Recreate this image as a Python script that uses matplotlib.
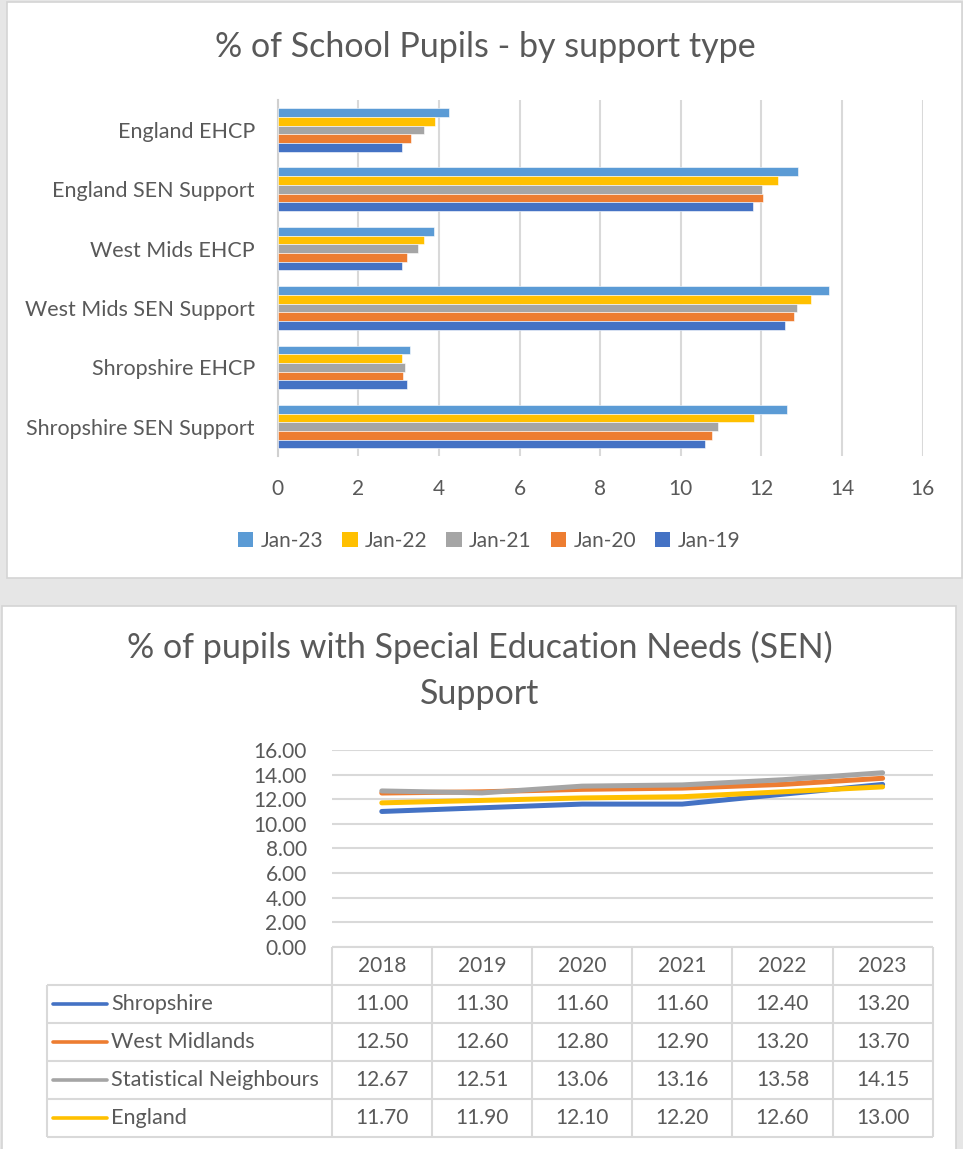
#!/usr/bin/env python
"""Two stacked Excel-style charts: support type bars and SEN support lines with data table."""

import matplotlib

matplotlib.use("Agg")
import matplotlib.pyplot as plt
import numpy as np
from matplotlib.patches import Patch, Rectangle

CATEGORIES = [
    "England EHCP",
    "England SEN Support",
    "West Mids EHCP",
    "West Mids SEN Support",
    "Shropshire EHCP",
    "Shropshire SEN Support",
]
BAR_SERIES = ["Jan-23", "Jan-22", "Jan-21", "Jan-20", "Jan-19"]
JAN_23 = [4.25, 12.90, 3.89, 13.68, 3.29, 12.64]
JAN_22 = [3.91, 12.41, 3.63, 13.24, 3.09, 11.81]
JAN_21 = [3.63, 12.02, 3.47, 12.89, 3.15, 10.93]
JAN_20 = [3.30, 12.04, 3.22, 12.82, 3.12, 10.77]
JAN_19 = [3.09, 11.80, 3.09, 12.60, 3.22, 10.61]
BAR_TICKS = [0, 2, 4, 6, 8, 10, 12, 14, 16]

YEARS = ["2018", "2019", "2020", "2021", "2022", "2023"]
LINE_SERIES = ["Shropshire", "West Midlands", "Statistical Neighbours", "England"]
SHROPSHIRE = [11.00, 11.30, 11.60, 11.60, 12.40, 13.20]
WEST_MIDLANDS = [12.50, 12.60, 12.80, 12.90, 13.20, 13.70]
STAT_NEIGHBOURS = [12.67, 12.51, 13.06, 13.16, 13.58, 14.15]
ENGLAND = [11.70, 11.90, 12.10, 12.20, 12.60, 13.00]
LINE_TICKS = [0, 2, 4, 6, 8, 10, 12, 14, 16]

BAR_COLORS = ["#5B9BD5", "#FFC000", "#A5A5A5", "#ED7D31", "#4472C4"]
LINE_COLORS = ["#4472C4", "#ED7D31", "#A5A5A5", "#FFC000"]
TEXT = "#595959"
GRID = "#D9D9D9"
FONT = "Lato"

W, H = 963, 1149
plt.rcParams["font.family"] = [FONT, "DejaVu Sans"]


def fx(x):
    return x / W


def fy(y):
    return 1 - y / H


def box(x0, y0, x1, y1):
    return [fx(x0), fy(y1), (x1 - x0) / W, (y1 - y0) / H]


fig = plt.figure(figsize=(W / 100, H / 100), dpi=100, facecolor="#E6E6E6")

# white chart panels, kept behind the axes
for x0, y0, x1, y1 in [(7, 2, 962, 578), (2, 606, 956, H + 2)]:
    fig.patches.append(
        Rectangle((fx(x0), fy(y1)), (x1 - x0) / W, (y1 - y0) / H, transform=fig.transFigure,
                  facecolor="white", edgecolor="#D4D4D4", linewidth=1.2, zorder=-10)
    )

# ---- top: horizontal clustered bars ----
fig.text(fx(485), fy(47), "% of School Pupils - by support type", ha="center", va="center",
         fontsize=24.5, color=TEXT)

ax1 = fig.add_axes(box(277.7, 100.2, 922.5, 456.4))
ax1.patch.set_alpha(0)
values = [JAN_23, JAN_22, JAN_21, JAN_20, JAN_19]
y = np.arange(len(CATEGORIES))
h = 0.1466
for j, (name, vals, color) in enumerate(zip(BAR_SERIES, values, BAR_COLORS)):
    ax1.barh(y + (j - 2) * h, vals, height=h, color=color, edgecolor="white", linewidth=0.4,
             label=name, zorder=3)
ax1.set_xlim(0, 16)
ax1.set_ylim(len(CATEGORIES) - 0.5, -0.5)
ax1.set_xticks(BAR_TICKS)
ax1.set_yticks(y)
ax1.set_yticklabels(CATEGORIES)
ax1.tick_params(axis="x", length=0, pad=16, labelsize=15, labelcolor=TEXT)
ax1.tick_params(axis="y", length=0, pad=16.5, labelsize=15.5, labelcolor=TEXT)
ax1.grid(axis="x", color=GRID, linewidth=1.5, zorder=0)
for side in ["top", "right", "bottom"]:
    ax1.spines[side].set_visible(False)
ax1.spines["left"].set_color("#D0D0D0")
ax1.spines["left"].set_linewidth(1.5)

handles = [Patch(facecolor=c) for c in BAR_COLORS]
fig.legend(handles, BAR_SERIES, loc="center", bbox_to_anchor=(fx(489), fy(541)), ncol=5,
           frameon=False, fontsize=15, labelcolor=TEXT, handlelength=0.75, handleheight=0.75,
           handletextpad=0.35, columnspacing=0.9)

# ---- bottom: lines with data table ----
fig.text(fx(480), fy(647), "% of pupils with Special Education Needs (SEN)", ha="center",
         va="center", fontsize=24.5, color=TEXT)
fig.text(fx(480), fy(694), "Support", ha="center", va="center", fontsize=24.5, color=TEXT)

ax2 = fig.add_axes(box(331.7, 750, 932.7, 946.7))
ax2.patch.set_alpha(0)
x = np.arange(len(YEARS))
line_values = [SHROPSHIRE, WEST_MIDLANDS, STAT_NEIGHBOURS, ENGLAND]
for name, vals, color in zip(LINE_SERIES, line_values, LINE_COLORS):
    ax2.plot(x, vals, color=color, linewidth=3.6, solid_capstyle="round", zorder=3)
ax2.set_xlim(-0.5, len(YEARS) - 0.5)
ax2.set_ylim(0, 16)
ax2.set_yticks(LINE_TICKS)
ax2.set_yticklabels([f"{t:.2f}" for t in LINE_TICKS])
ax2.set_xticks([])
ax2.tick_params(axis="y", length=0, pad=18, labelsize=15, labelcolor=TEXT)
ax2.grid(axis="y", color=GRID, linewidth=1.5, zorder=0)
for side in ax2.spines:
    ax2.spines[side].set_visible(False)

left = -0.5 - (331.7 - 47.3) / 100.17
ax3 = fig.add_axes(box(47.3, 946.7, 932.7, 1136.7))
ax3.set_xlim(left, len(YEARS) - 0.5)
ax3.set_ylim(len(LINE_SERIES) + 1, 0)
ax3.axis("off")
edges = np.arange(len(YEARS) + 1) - 0.5
ax3.vlines(edges, 0, len(LINE_SERIES) + 1, color=GRID, linewidth=1.5, clip_on=False)
ax3.vlines([left], 1, len(LINE_SERIES) + 1, color=GRID, linewidth=1.5, clip_on=False)
ax3.hlines([0], -0.5, len(YEARS) - 0.5, color=GRID, linewidth=1.5, clip_on=False)
ax3.hlines(np.arange(1, len(LINE_SERIES) + 2), left, len(YEARS) - 0.5, color=GRID,
           linewidth=1.5, clip_on=False)
for i, year in enumerate(YEARS):
    ax3.text(i, 0.5, year, ha="center", va="center", fontsize=15, color=TEXT)
for r, (name, vals, color) in enumerate(zip(LINE_SERIES, line_values, LINE_COLORS), start=1):
    ax3.plot([-3.285, -2.74], [r + 0.5, r + 0.5], color=color, linewidth=2.6,
             solid_capstyle="round")
    ax3.text(-2.705, r + 0.5, name, ha="left", va="center", fontsize=15.6, color=TEXT)
    for i, v in enumerate(vals):
        ax3.text(i, r + 0.5, f"{v:.2f}", ha="center", va="center", fontsize=15, color=TEXT)

fig.savefig("out.png", dpi=100, facecolor=fig.get_facecolor())
